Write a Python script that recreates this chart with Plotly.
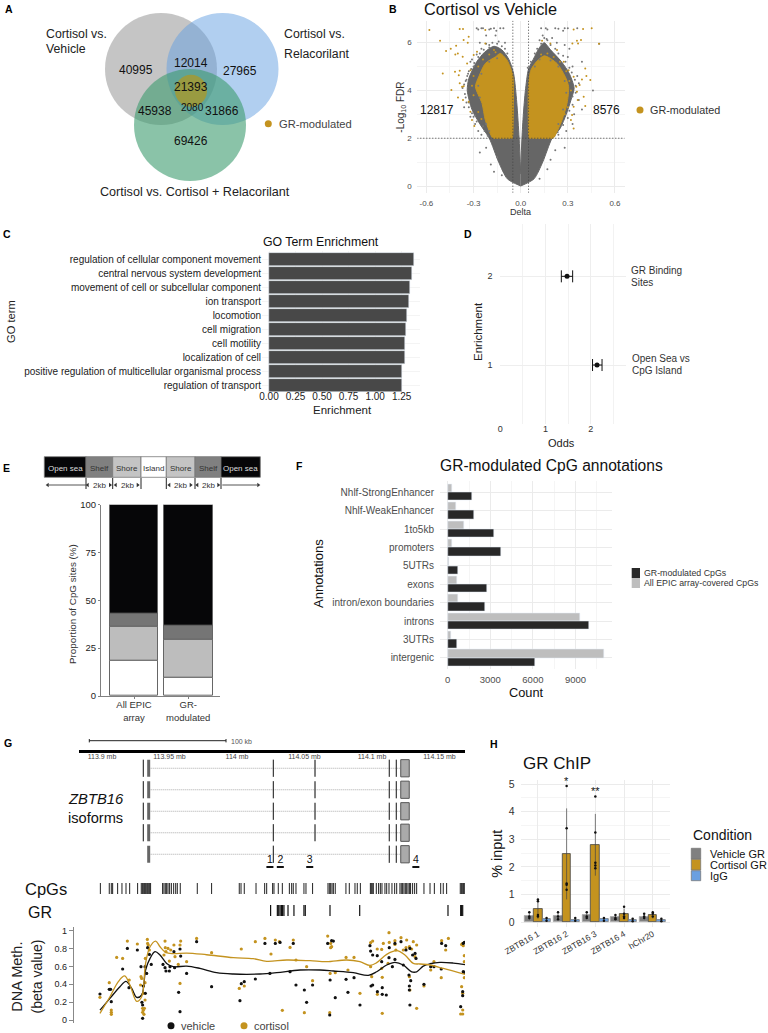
import numpy as np
import plotly.graph_objects as go

W, H = 768, 1033
FONT = "Liberation Sans"
GOLD = "#c4931f"

# --- A: venn ---
venn_counts = [40995, 12014, 27965, 21393, 45938, 2080, 31866, 69426]

# --- B: volcano, outlines and outliers ---
grey_left = [(0, 0), (-0.085, 0.3), (-0.14, 1), (-0.2, 2), (-0.26, 2.6), (-0.31, 3.2), (-0.34, 4), (-0.33, 4.5),
             (-0.28, 5.2), (-0.23, 5.6), (-0.17, 5.85), (-0.12, 5.7), (-0.075, 5.3), (-0.045, 4.7), (-0.025, 3.5),
             (-0.01, 2), (0, 0.5)]
grey_right = [(0, 0), (0.085, 0.3), (0.14, 1), (0.2, 2), (0.25, 2.4), (0.29, 3), (0.32, 3.6), (0.34, 4.1), (0.31, 4.7),
              (0.26, 5.2), (0.19, 5.7), (0.15, 6.0), (0.12, 5.8), (0.08, 5.3), (0.05, 4.9), (0.03, 4), (0.017, 3),
              (0.008, 2), (0, 0.6)]
gold_left = [(-0.05, 2), (-0.06, 2), (-0.17, 2), (-0.18, 2.02), (-0.225, 2.76), (-0.246, 3.46), (-0.288, 4.16),
             (-0.267, 4.57), (-0.225, 5.13), (-0.16, 5.41), (-0.13, 5.55), (-0.09, 5.3), (-0.076, 5.13), (-0.05, 4.6),
             (-0.05, 2.1)]
gold_right = [(0.05, 2), (0.06, 2), (0.2, 2), (0.21, 2.02), (0.263, 2.76), (0.295, 3.46), (0.305, 4.16), (0.284, 4.57),
              (0.231, 5.13), (0.15, 5.45), (0.10, 5.2), (0.065, 4.85), (0.05, 4.2), (0.05, 2.1)]
grey_pts = [(-0.36, 3.3), (-0.35, 3.7), (-0.37, 4.1), (-0.35, 4.4), (-0.33, 4.8), (-0.30, 5.0), (-0.32, 5.2),
            (-0.28, 5.5), (-0.25, 5.75), (-0.22, 5.95), (-0.18, 6.0), (-0.14, 6.05), (-0.1, 6.0), (-0.26, 6.0),
            (-0.2, 5.9), (-0.3, 2.9), (-0.29, 2.6), (-0.32, 2.9), (-0.27, 2.3), (-0.25, 2.15), (-0.33, 3.5),
            (-0.34, 4.6), (-0.31, 5.3), (-0.28, 6.6), (-0.27, 6.55), (-0.25, 6.6), (-0.24, 6.6), (-0.2, 6.55),
            (-0.19, 6.58), (-0.17, 6.6), (-0.155, 6.5), (-0.13, 6.6), (-0.11, 6.6), (-0.16, 6.3), (-0.22, 6.3),
            (0.13, 6.6), (0.16, 6.6), (0.17, 6.55), (0.22, 6.6), (0.24, 6.58), (0.27, 6.5), (0.28, 6.6), (0.30, 6.6),
            (0.36, 6.6), (0.14, 6.3), (0.17, 6.1), (0.12, 6.1), (0.2, 6.2), (0.23, 6.0), (0.28, 5.9), (0.31, 5.75),
            (0.3, 5.4), (0.33, 5.0), (0.36, 4.6), (0.37, 4.3), (0.35, 3.9), (0.37, 3.6), (0.33, 3.4), (0.34, 3.0),
            (0.33, 2.6), (0.29, 2.3), (0.24, 2.15), (0.39, 5.2), (0.46, 4.0), (0.50, 5.95), (0.39, 3.2), (0.28, 1.6),
            (0.22, 1.5), (0.19, 1.1), (0.17, 0.7), (0.12, 0.3), (-0.19, 0.9), (-0.17, 0.6), (-0.15, 1.2),
            (-0.22, 1.6), (-0.26, 1.4), (-0.12, 0.45),
            (-0.21, 2.1), (-0.23, 2.3), (-0.24, 2.5), (-0.28, 2.7), (-0.29, 2.95), (-0.31, 3.05), (-0.33, 3.3),
            (-0.345, 3.5), (-0.355, 3.85), (-0.36, 4.25), (-0.345, 4.45), (-0.335, 4.7), (-0.315, 4.9), (-0.295, 5.15),
            (-0.27, 5.4), (-0.26, 5.55), (-0.235, 5.7), (-0.2, 5.8), (-0.15, 5.95), (-0.12, 5.85), (-0.1, 5.75),
            (-0.085, 5.55), (0.215, 2.1), (0.235, 2.25), (0.27, 2.55), (0.3, 2.85), (0.31, 3.15), (0.33, 3.75),
            (0.35, 4.2), (0.345, 4.45), (0.325, 4.75), (0.31, 4.95), (0.285, 5.2), (0.27, 5.45), (0.24, 5.55),
            (0.22, 5.75), (0.19, 5.9), (0.165, 6.15), (0.15, 6.2), (0.13, 5.95), (0.105, 5.75), (0.09, 5.55),
            (0.065, 5.2), (0.045, 4.95)]
gold_pts = [(-0.581, 6.53), (-0.513, 6.08), (-0.475, 5.65), (-0.445, 5.75), (-0.411, 5.87), (-0.416, 5.51), (-0.4, 5.55),
            (-0.369, 5.41), (-0.496, 4.71), (-0.418, 4.78), (-0.388, 4.83), (-0.394, 4.64), (-0.388, 4.3),
            (-0.373, 4.16), (-0.363, 4.18), (-0.441, 4.02), (-0.399, 3.7), (-0.367, 3.6), (-0.331, 3.53),
            (-0.32, 3.11), (-0.295, 2.51), (-0.31, 2.76), (-0.388, 6.57), (-0.367, 6.57), (-0.331, 6.25),
            (-0.363, 6.11), (-0.337, 6.0), (-0.278, 5.62), (-0.299, 5.48), (-0.341, 5.13), (-0.32, 4.85),
            (-0.225, 5.97), (-0.225, 6.53), (-0.17, 5.69), (0.397, 6.57), (0.452, 6.6), (0.337, 6.55), (0.498, 5.96),
            (0.384, 6.11), (0.358, 6.08), (0.365, 5.97), (0.329, 5.97), (0.411, 4.92), (0.418, 4.6), (0.443, 4.44),
            (0.39, 4.46), (0.354, 4.16), (0.375, 4.23), (0.358, 3.95), (0.401, 3.74), (0.363, 3.6), (0.411, 3.35),
            (0.337, 3.32), (0.32, 2.76), (0.337, 2.41), (0.327, 2.97), (0.337, 4.57), (0.305, 4.85), (0.274, 5.2),
            (0.231, 5.69), (0.189, 5.97), (0.136, 6.08),
            (-0.3, 3.8), (-0.31, 4.2), (-0.3, 4.6), (-0.27, 5.0), (-0.24, 5.3), (-0.2, 5.5), (-0.16, 5.6), (-0.27, 3.1),
            (-0.25, 2.8), (0.28, 3.0), (0.3, 3.3), (0.32, 4.0), (0.31, 4.4), (0.29, 4.8), (0.25, 5.2), (0.21, 5.4),
            (0.17, 5.55), (0.13, 5.5)]
speck_pts = [(-0.26, 3.7), (-0.27, 4.2), (-0.25, 4.7), (-0.2, 5.2), (-0.15, 5.35), (-0.22, 2.6), (-0.2, 2.3), (0.24, 2.6),
             (0.27, 3.2), (0.29, 3.9), (0.28, 4.4), (0.24, 5.0), (0.19, 5.25), (0.12, 5.3), (0.09, 5.0)]
fdr_cut = 2
delta_cut = 0.05

# --- C: GO terms ---
go_terms = ["regulation of cellular component movement", "central nervous system development",
            "movement of cell or subcellular component", "ion transport", "locomotion", "cell migration",
            "cell motility", "localization of cell", "positive regulation of multicellular organismal process",
            "regulation of transport"]
go_enrich = [1.37, 1.351, 1.326, 1.323, 1.304, 1.291, 1.285, 1.285, 1.257, 1.254]

# --- D: odds ---
odds_y = [2, 1]
odds_val = [1.476, 2.14]
odds_lo = [1.35, 2.04]
odds_hi = [1.60, 2.25]

# --- E: stacked proportions ---
e_labels = ["All EPIC<br>array", "GR-<br>modulated"]
e_island = [18.5, 9.6]
e_shore = [17.9, 19.8]
e_shelf = [6.8, 7.1]
e_sea = [56.8, 63.5]

# --- F: annotations ---
f_labels = ["Nhlf-StrongEnhancer", "Nhlf-WeakEnhancer", "1to5kb", "promoters", "5UTRs", "exons",
            "intron/exon boundaries", "introns", "3UTRs", "intergenic"]
f_all = [328, 562, 1172, 328, 94, 656, 703, 9305, 234, 10992]
f_mod = [1711, 1875, 3281, 3750, 727, 2766, 2625, 9961, 633, 6164]

# --- G: locus, positions in kb from 113.9 mb ---
locus_ticks = [0, 50, 100, 150, 200, 250]
locus_labels = ["113.9 mb", "113.95 mb", "114 mb", "114.05 mb", "114.1 mb", "114.15 mb"]
iso_rows = [1, 2, 3, 4, 5]
iso_start = 34.6
iso_end = 221.3
exon_thin = [[30.6, 126.9, 212.8, 218], [30.6, 126.9, 212.8, 218], [30.6, 126.9, 212.8, 218],
             [30.6, 126.9, 212.8, 218], [126.9, 212.8, 218]]
exon_mid = [[157.8], [157.8], [157.8], [157.8], []]
exon_first = 34.6
exon_last = (221.3, 227.6)
amplicons = [("1", 124.4), ("2", 132.1), ("3", 153.9), ("4", 232.5)]
cpg_pos = [-1.2, 5.4, 6.9, 7.9, 11.6, 14.8, 17.8, 20.5, 26.4, 29.1, 29.9, 30.6, 31.4, 32.1, 32.8, 33.6, 34.3, 35.1, 36.0,
           44.9, 45.9, 46.9, 47.9, 48.9, 50.1, 51.4, 53.1, 54.6, 55.8, 58.0, 70.6, 81.2, 101.7, 103.0, 105.4, 114.1,
           120.5, 122.0, 126.4, 127.4, 130.6, 133.6, 138.8, 140.5, 141.7, 143.7, 149.6, 151.1, 156.0, 167.4, 168.4,
           169.4, 170.4, 171.4, 172.8, 180.7, 183.2, 187.4, 189.1, 191.4, 198.8, 199.5, 200.2, 201.0, 203.2, 204.9,
           206.2, 207.4, 209.6, 210.9, 212.6, 214.8, 216.8, 218.3, 220.7, 221.7, 222.7, 223.7, 224.7, 225.7, 226.7,
           227.7, 228.6, 230.1, 231.6, 233.1, 238.5, 243.0, 246.2, 250.9, 252.8, 255.3, 265.4, 266.2, 266.9, 267.7,
           268.4]
gr_pos = [124.9, 129.9, 130.9, 131.9, 132.9, 133.8, 134.8, 137.8, 142.2, 149.6, 150.6, 168.9, 190.9, 256.3, 265.7,
          266.4, 267.2]
veh_pts = [(-1.5, .291), (5.4, .343), (6.4, .343), (6.9, .205), (15.3, .571), (18.8, .802), (26.2, .784), (20, .362),
           (28.9, .597), (31.9, .597), (33.1, .522), (30.6, .381), (32.1, .299), (29.6, .198), (30.1, .168),
           (30.1, .019), (33.8, .81), (36.5, .623), (35.1, .735), (45.2, .623), (46.7, .586), (50.4, .597),
           (47.4, .549), (49.9, .549), (53.8, .586), (53.3, .765), (58.3, .716), (57.8, .795), (62.7, .522),
           (56.8, .31), (57.8, .093), (70.1, .877), (81.2, .373), (102.2, .216), (103.2, .407), (105.4, .429),
           (113.6, .459), (120.7, .858), (124.4, .522), (128.4, .858), (131.9, .869), (141.7, .858), (139.3, .541),
           (143.7, .392), (149.9, .336), (156, .392), (151.6, .198), (167.2, .858), (170.1, .888), (171.4, .884),
           (169, .448), (172.8, .25), (180.8, .455), (186.7, .474), (182.2, .31), (191.1, .168), (168.7, .056),
           (198.5, .832), (199, .772), (200.5, .728), (203.9, .72), (199.3, .381), (200.5, .392), (207.6, .362),
           (204, .317), (207.6, .287), (210.6, .28), (207.2, .653), (212.6, .698), (212.8, .81), (217, .858),
           (221.5, .877), (217, .679), (215.1, .597), (223.2, .616), (225.2, .784), (230.1, .728), (231.9, .746),
           (232.6, .69), (228.1, .802), (227.4, .504), (228.7, .44), (227.7, .381), (227.7, .336), (228.1, .168),
           (238.5, .399), (245.9, .597), (251.6, .858), (254.6, .832), (251.3, .571), (243.5, .597), (267.6, .858),
           (268.4, .869), (265.7, .149), (267.2, .317), (267.2, .272), (267.6, .541), (268.4, .534)]
cort_pts = [(-1.5, .254), (5.4, .418), (6.9, .112), (6.9, .086), (6.9, .063), (10.9, .701), (15.3, .69), (18.8, .884),
            (26.2, .851), (20.2, .448), (28.9, .485), (29.4, .466), (28.6, .392), (31.9, .418), (32.1, .69),
            (33.6, .903), (33.8, .858), (34.3, .84), (35.1, .784), (30.6, .299), (31.9, .224), (30.1, .131),
            (30.6, .108), (31.4, .131), (30.1, .086), (31.1, .063), (46.7, .884), (46.9, .81), (50.9, .784),
            (45.9, .728), (47.4, .765), (48.9, .802), (53.3, .84), (58.3, .884), (57.8, .84), (54.1, .709),
            (56.5, .623), (49.9, .66), (62.7, .653), (57.8, .41), (70.1, .914), (81.2, .754), (103.2, .795),
            (101.7, .354), (105.4, .381), (113.6, .877), (120.7, .914), (125.2, .739), (128.4, .896), (131.4, .877),
            (141.7, .896), (139.3, .813), (143.7, .672), (151.6, .597), (156, .44), (167.2, .94), (169.4, .858),
            (170.1, .821), (169.4, .81), (169, .522), (172.8, .53), (180.8, .701), (186.7, .701), (182.2, .56),
            (191.1, .299), (133.6, .108), (149.9, .082), (168.7, .082), (199, .866), (200.5, .884), (203.9, .795),
            (207.2, .791), (208.4, .858), (212.8, .869), (212.6, .978), (217, .888), (217, .847), (221.5, .922),
            (225.7, .896), (230.6, .877), (233.1, .84), (227.7, .821), (225.2, .81), (229.4, .795), (223.2, .784),
            (231.9, .709), (217.7, .784), (199, .597), (199.8, .485), (207.6, .478), (211.9, .634), (207.2, .578),
            (204, .287), (207.6, .075), (227.7, .485), (228.1, .336), (233.1, .131), (238.5, .381), (245.9, .653),
            (243.5, .56), (251.6, .888), (256.6, .914), (254.6, .784), (251.3, .474), (266.4, .847), (267.2, .858),
            (267.6, .832), (268.4, .72), (268.4, .653), (268.4, .474), (266.4, .373), (267.2, .299), (267.2, .112),
            (265.7, .067), (267.2, .067)]
veh_curve = [(-1.5, .11), (5.9, .243), (13.3, .373), (17.8, .433), (22, .354), (25.7, .254), (29.4, .28), (32.3, .56),
             (35.6, .69), (39.3, .765), (43, .728), (47.9, .634), (52.8, .597), (62.7, .604), (72.6, .578), (84.9, .53),
             (97.3, .515), (117, .515), (129.4, .53), (146.7, .56), (161.5, .56), (171.4, .549), (186.2, .53),
             (197.3, .5), (203.5, .54), (210.9, .616), (217, .646), (223.2, .616), (229.4, .54), (233.1, .54),
             (238, .604), (243, .63), (250.4, .646), (260.2, .638), (268.9, .62)]
cort_curve = [(-1.5, .075), (5.9, .26), (12.1, .43), (16.8, .493), (20.7, .392), (25.7, .209), (29.4, .261), (32.3, .634),
              (35.6, .82), (39.8, .884), (43, .82), (47.2, .757), (52.8, .743), (62.7, .75), (77.5, .731), (97.3, .698),
              (112, .687), (122, .657), (136.8, .672), (154.1, .664), (166.4, .653), (181.2, .672), (191.1, .653),
              (198.5, .612), (203.5, .642), (210.9, .735), (218.3, .776), (224.4, .728), (230.6, .634), (235.6, .627),
              (243, .616), (252.8, .578), (268.9, .511)]

# --- H: ChIP ---
h_labels = ["ZBTB16 1", "ZBTB16 2", "ZBTB16 3", "ZBTB16 4", "hChr20"]
h_vehicle = [.22, .22, .25, .18, .20]
h_cortisol = [.47, 2.47, 2.80, .29, .25]
h_igg = [.10, .08, .10, .07, .07]
h_vehicle_err = [.15, .15, .13, .10, .10]
h_cortisol_err = [.35, 1.65, 1.12, .20, .12]
h_igg_err = [.07, .07, .08, .05, .05]
h_vehicle_pts = [[.35, .2, .15], [.35, .2, .1], [.35, .2, .15], [.25, .15, .1], [.3, .2, .15]]
h_cortisol_pts = [[.2, .25, .75, .82], [4.93, 3.4, 1.4, 1.35, 1.17], [4.55, 3.25, 2.15, 2.05, 1.95],
                  [.55, .3, .15, .2], [.35, .2, .3]]
h_igg_pts = [[.15, .05], [.15, .05], [.15, .05], [.12, .03], [.12, .03]]


def dx(l, r):
    return [l / W, r / W]


def dy(t, b):
    return [1 - b / H, 1 - t / H]


def xs(pts):
    return [p[0] for p in pts]


def ys(pts):
    return [p[1] for p in pts]


def rug(pos):
    x, y = [], []
    for p in pos:
        x += [p, p, None]
        y += [0, 1, None]
    return x, y


annotations = []


def note(text, x, y, size=10, color="#222222", anchor="left", angle=0):
    # page-wide axis, so these never push the margins
    annotations.append(dict(text=text, x=x, y=y, xref="x", yref="y", showarrow=False,
                            xanchor=anchor, yanchor="middle", textangle=angle, align=anchor,
                            font=dict(size=size, color=color, family=FONT)))


shapes = []


def rect(x0, y0, x1, y1, fill, line="rgba(0,0,0,0)", lw=1):
    shapes.append(dict(type="rect", x0=x0, y0=y0, x1=x1, y1=y1, xref="x", yref="y", fillcolor=fill,
                       line=dict(color=line, width=lw), layer="below"))


def seg(x0, y0, x1, y1, color="#222222", lw=1):
    shapes.append(dict(type="line", x0=x0, y0=y0, x1=x1, y1=y1, xref="x", yref="y", line=dict(color=color, width=lw)))


def circle(cx, cy, r, fill):
    shapes.append(dict(type="circle", x0=cx - r, x1=cx + r, y0=cy - r, y1=cy + r, xref="x", yref="y", fillcolor=fill,
                       line=dict(width=0), layer="below"))


fig = go.Figure()

# page-wide axis for the schematic parts (venn, sea/shore strip, hand legends)
fig.add_trace(go.Scatter(x=[268.3, 640, 171, 244], y=[123.7, 110, 1025.7, 1025.7], mode="markers", xaxis="x", yaxis="y",
                         marker=dict(size=7, color=[GOLD, GOLD, "#111111", GOLD]), showlegend=False))
fig.add_trace(go.Scatter(x=[47.7, 87.7, 115.7, 169.3, 197.3], y=[485] * 5, mode="markers", xaxis="x", yaxis="y",
                         marker=dict(size=4, symbol="triangle-left", color="#333333"), showlegend=False))
fig.add_trace(go.Scatter(x=[110, 137.7, 190.7, 218.3, 258.3], y=[485] * 5, mode="markers", xaxis="x", yaxis="y",
                         marker=dict(size=4, symbol="triangle-right", color="#333333"), showlegend=False))

# A
circle(161, 69, 56, "rgba(150,150,150,0.55)")
circle(222.5, 69, 56, "rgba(100,160,225,0.5)")
circle(190, 125, 56, "rgba(60,155,110,0.6)")
circle(191, 90.7, 16, "rgba(185,150,20,0.65)")
for n, px, py, s in zip(venn_counts, [135.7, 191, 240, 191, 154.7, 192, 222, 191],
                        [70.3, 62.7, 71, 87.3, 111, 107, 111, 140.7], [12, 12, 12, 12, 12, 10, 12, 12]):
    note(str(n), px, py, s, "#111111", "center")
note("Cortisol vs.", 44, 34, 12.3)
note("Vehicle", 44, 49.3, 12.3)
note("Cortisol vs.", 282.3, 34, 12.3)
note("Relacorilant", 282.3, 53.7, 12.3)
note("Cortisol vs. Cortisol + Relacorilant", 97.7, 192.3, 12.6)
note("GR-modulated", 277, 123.7, 11.2, "#444444")

# B
for pts in [grey_left, grey_right]:
    fig.add_trace(go.Scatter(x=xs(pts), y=ys(pts), mode="lines", fill="toself", fillcolor="#666666",
                             line=dict(color="#666666", width=1, shape="spline", smoothing=0.7),
                             xaxis="x2", yaxis="y2", showlegend=False))
fig.add_trace(go.Scatter(x=xs(grey_pts), y=ys(grey_pts), mode="markers", marker=dict(size=2, color="#777777"),
                         xaxis="x2", yaxis="y2", showlegend=False))
for pts in [gold_left, gold_right]:
    fig.add_trace(go.Scatter(x=xs(pts), y=ys(pts), mode="lines", fill="toself", fillcolor=GOLD,
                             line=dict(color=GOLD, width=1, shape="spline", smoothing=0.7),
                             xaxis="x2", yaxis="y2", showlegend=False))
fig.add_trace(go.Scatter(x=xs(gold_pts), y=ys(gold_pts), mode="markers", marker=dict(size=2, color=GOLD),
                         xaxis="x2", yaxis="y2", showlegend=False))
fig.add_trace(go.Scatter(x=xs(speck_pts), y=ys(speck_pts), mode="markers", marker=dict(size=2, color="#777777"),
                         xaxis="x2", yaxis="y2", showlegend=False))
dots = dict(color="#444444", width=1, dash="1px,2px")
fig.add_trace(go.Scatter(x=[-0.658, 0.662], y=[fdr_cut, fdr_cut], mode="lines", line=dots, xaxis="x2", yaxis="y2", showlegend=False))
for d in [-delta_cut, delta_cut]:
    fig.add_trace(go.Scatter(x=[d, d], y=[-0.28, 6.92], mode="lines", line=dots, xaxis="x2", yaxis="y2", showlegend=False))
note("Cortisol vs Vehicle", 421.7, 8.5, 16.3, "#111111")
note("12817", 437.3, 110, 12, "#111111", "center")
note("8576", 606, 110, 12, "#111111", "center")
note("GR-modulated", 647.7, 110, 10.8, "#333333")
note("-Log<sub>10</sub> FDR", 400.7, 107, 10, "#333333", "center", -90)
note("Delta", 520.7, 212.3, 9, "#333333", "center")

# C
fig.add_trace(go.Bar(x=go_enrich, y=list(range(10)), orientation="h", width=0.9, marker=dict(color="#484848"),
                     xaxis="x3", yaxis="y3", showlegend=False))
note("GO Term Enrichment", 321, 242, 12.3, "#111111", "center")
note("Enrichment", 342, 410, 11.5, "#222222", "center")
note("GO term", 11, 322, 11.2, "#222222", "center", -90)

# D
fig.add_trace(go.Scatter(x=odds_val, y=odds_y, mode="markers", marker=dict(size=5, color="#111111"),
                         error_x=dict(type="data", symmetric=False, array=[h - v for h, v in zip(odds_hi, odds_val)],
                                      arrayminus=[v - l for l, v in zip(odds_lo, odds_val)], color="#111111",
                                      thickness=1, width=6),
                         xaxis="x4", yaxis="y4", showlegend=False))
note("Odds", 561.7, 442.7, 11, "#222222", "center")
note("Enrichment", 478, 332, 11.5, "#222222", "center", -90)
note("GR Binding", 628.7, 270.7, 10, "#333333")
note("Sites", 628.7, 282.7, 10, "#333333")
note("Open Sea vs", 629.7, 358.7, 10, "#333333")
note("CpG Island", 629.7, 370.7, 10, "#333333")

# E
base = np.zeros(2)
for vals, col in [(e_island, "#ffffff"), (e_shore, "#bdbdbd"), (e_shelf, "#757575"), (e_sea, "#060608")]:
    fig.add_trace(go.Bar(x=[0, 1], y=vals, base=list(base), width=0.9, marker=dict(color=col, line=dict(color="#666666", width=1)),
                         xaxis="x5", yaxis="y5", showlegend=False))
    base = base + np.array(vals)
edges = [44.3, 86, 112.7, 141, 166.3, 195, 221, 260.3]
fills = ["#060608", "#808080", "#c4c4c4", "#ffffff", "#c4c4c4", "#808080", "#060608"]
names = ["Open sea", "Shelf", "Shore", "Island", "Shore", "Shelf", "Open sea"]
tcols = ["#dddddd", "#333333", "#333333", "#333333", "#333333", "#333333", "#dddddd"]
for i in range(7):
    rect(edges[i], 456.7, edges[i + 1], 477.3, fills[i], "#777777", 0.8)
    note(names[i], (edges[i] + edges[i + 1]) / 2, 468, 8, tcols[i], "center")
for e in edges[1:-1]:
    seg(e, 478, e, 489, "#222222", 1)
seg(47.7, 485, 86, 485, "#555555", 1)
seg(222.3, 485, 258.3, 485, "#555555", 1)
for px in [99.3, 127, 180, 208.3]:
    note("2kb", px, 485, 8, "#333333", "center")
note("Proportion of CpG sites (%)", 72, 604, 9.8, "#333333", "center", -90)

# F
fig.add_trace(go.Bar(x=f_all, y=list(range(10)), orientation="h", width=0.45, offset=-0.45, marker=dict(color="#bebebe"),
                     xaxis="x6", yaxis="y6", showlegend=False))
fig.add_trace(go.Bar(x=f_mod, y=list(range(10)), orientation="h", width=0.45, offset=0, marker=dict(color="#282828"),
                     xaxis="x6", yaxis="y6", showlegend=False))
note("GR-modulated CpG annotations", 551.7, 465.7, 15.6, "#111111", "center")
note("Count", 526, 692.7, 12.8, "#111111", "center")
note("Annotations", 318, 574, 13, "#111111", "center", -90)
rect(631.7, 568, 640, 578, "#282828")
rect(631.7, 578, 640, 588, "#bebebe")
note("GR-modulated CpGs", 642, 573, 8.8, "#333333")
note("All EPIC array-covered CpGs", 642, 583, 8.8, "#333333")

# G
seg(89.3, 740.7, 226, 740.7, "#222222", 1)
seg(89.3, 739, 89.3, 742.4, "#222222", 1)
seg(226, 739, 226, 742.4, "#222222", 1)
note("100 kb", 229, 741, 7, "#555555")
note("<i>ZBTB16</i>", 65.7, 799.3, 14.8, "#111111")
note("isoforms", 65.7, 818.3, 14.6, "#111111")
note("CpGs", 23.3, 889.3, 16.5, "#111111")
note("GR", 25.7, 912.3, 16, "#111111")
note("DNA Meth.", 17, 976.7, 14.5, "#222222", "center", -90)
note("(beta value)", 36.7, 976.7, 14, "#222222", "center", -90)
note("vehicle", 179, 1025.7, 11, "#444444")
note("cortisol", 252.3, 1025.7, 11, "#444444")

# keeps the ruler axis on its own thin subplot
fig.add_trace(go.Scatter(x=locus_ticks, y=[0.5] * 6, mode="markers", marker=dict(size=1, opacity=0),
                         xaxis="x7", yaxis="y7", showlegend=False))
for i, row in enumerate(iso_rows):
    fig.add_trace(go.Scatter(x=[iso_start, iso_end], y=[row, row], mode="lines", line=dict(color="#aaaaaa", width=1, dash="1px,1px"),
                             xaxis="x7", yaxis="y8", showlegend=False))
    for pos in exon_thin[i]:
        fig.add_trace(go.Scatter(x=[pos, pos], y=[row - 0.4, row + 0.4], mode="lines", line=dict(color="#111111", width=1),
                                 xaxis="x7", yaxis="y8", showlegend=False))
    for pos in exon_mid[i]:
        fig.add_trace(go.Scatter(x=[pos, pos], y=[row - 0.4, row + 0.4], mode="lines", line=dict(color="#555555", width=1.5),
                                 xaxis="x7", yaxis="y8", showlegend=False))
    fig.add_trace(go.Scatter(x=[exon_first, exon_first], y=[row - 0.4, row + 0.4], mode="lines", line=dict(color="#666666", width=3),
                             xaxis="x7", yaxis="y8", showlegend=False))
    a, b = exon_last
    fig.add_trace(go.Scatter(x=[a, b, b, a, a], y=[row - 0.4, row - 0.4, row + 0.4, row + 0.4, row - 0.4], mode="lines",
                             fill="toself", fillcolor="#aaaaaa", line=dict(color="#555555", width=1),
                             xaxis="x7", yaxis="y8", showlegend=False))
for label, pos in amplicons:
    fig.add_trace(go.Scatter(x=[pos - 2.6, pos + 2.6], y=[5.59, 5.59], mode="lines", line=dict(color="#111111", width=2),
                             xaxis="x7", yaxis="y8", showlegend=False))
    fig.add_trace(go.Scatter(x=[pos], y=[5.3], mode="text", text=[label], textfont=dict(size=10.5, color="#111111", family=FONT),
                             xaxis="x7", yaxis="y8", showlegend=False))

rx, ry = rug(cpg_pos)
fig.add_trace(go.Scatter(x=rx, y=ry, mode="lines", line=dict(color="#222222", width=1), xaxis="x7", yaxis="y9", showlegend=False))
rx, ry = rug(gr_pos)
fig.add_trace(go.Scatter(x=rx, y=ry, mode="lines", line=dict(color="#111111", width=1.2), xaxis="x7", yaxis="y10", showlegend=False))
fig.add_trace(go.Scatter(x=xs(cort_pts), y=ys(cort_pts), mode="markers", marker=dict(size=3.2, color=GOLD),
                         xaxis="x7", yaxis="y11", showlegend=False))
fig.add_trace(go.Scatter(x=xs(veh_pts), y=ys(veh_pts), mode="markers", marker=dict(size=3.2, color="#111111"),
                         xaxis="x7", yaxis="y11", showlegend=False))
fig.add_trace(go.Scatter(x=xs(veh_curve), y=ys(veh_curve), mode="lines", line=dict(color="#111111", width=1.3, shape="spline"),
                         xaxis="x7", yaxis="y11", showlegend=False))
fig.add_trace(go.Scatter(x=xs(cort_curve), y=ys(cort_curve), mode="lines", line=dict(color=GOLD, width=1.3, shape="spline"),
                         xaxis="x7", yaxis="y11", showlegend=False))

# H
h_x = list(range(5))
for vals, errs, pts, off, col, edge in [(h_vehicle, h_vehicle_err, h_vehicle_pts, -0.45, "#808080", "#aaaaaa"),
                                        (h_cortisol, h_cortisol_err, h_cortisol_pts, -0.15, GOLD, "#444444"),
                                        (h_igg, h_igg_err, h_igg_pts, 0.15, "#6a9fe0", "#777777")]:
    fig.add_trace(go.Bar(x=h_x, y=vals, width=0.3, offset=off, marker=dict(color=col, line=dict(color=edge, width=0.8)),
                         error_y=dict(type="data", array=errs, color="#444444", thickness=0.7, width=0),
                         xaxis="x12", yaxis="y12", showlegend=False))
    px_, py_ = [], []
    for i, vs in enumerate(pts):
        px_ += [i + off + 0.15] * len(vs)
        py_ += vs
    fig.add_trace(go.Scatter(x=px_, y=py_, mode="markers", marker=dict(size=2.5, color="#111111"),
                             xaxis="x12", yaxis="y12", showlegend=False))
note("GR ChIP", 520.7, 763.3, 17, "#111111")
note("% input", 496.7, 854, 14.4, "#111111", "center", -90)
note("*", 566.3, 781, 11, "#111111", "center")
note("**", 595, 791, 11, "#111111", "center")
note("Condition", 691.3, 835, 14, "#111111")
for y0, y1, col, name in [(848.3, 859, "#808080", "Vehicle GR"), (859.3, 870, GOLD, "Cortisol GR"), (870.7, 880.7, "#6a9fe0", "IgG")]:
    rect(691.3, y0, 700.7, y1, col, "#777777", 0.8)
    note(name, 708.3, (y0 + y1) / 2, 11, "#111111")

# panel letters
for letter, px, py in [("A", 3, 9.3), ("B", 387, 9), ("C", 1, 234), ("D", 461.7, 234), ("E", 1, 467.7), ("F", 294, 466),
                       ("G", 2, 743), ("H", 488, 744)]:
    note("<b>" + letter + "</b>", px, py, 10.5, "#000000")

tick_font = dict(size=8, color="#4d4d4d", family=FONT)
grid = "#ebebeb"
soft = "#f5f5f5"
hidden = dict(visible=False, showgrid=False, zeroline=False)

fig.update_layout(
    width=W, height=H, autosize=False, margin=dict(l=0, r=0, t=0, b=0, pad=0, autoexpand=False),
    paper_bgcolor="white", plot_bgcolor="rgba(0,0,0,0)", barmode="overlay", bargap=0, showlegend=False,
    font=dict(family=FONT), annotations=annotations, shapes=shapes,
    xaxis=dict(domain=[0, 1], range=[0, W], **hidden),
    yaxis=dict(domain=[0, 1], range=[H, 0], **hidden),
    # B
    xaxis2=dict(domain=dx(417.3, 624.7), range=[-0.658, 0.662], anchor="y2", tickvals=[-0.6, -0.3, 0, 0.3, 0.6],
                ticktext=["-0.6", "-0.3", "0.0", "0.3", "0.6"], gridcolor=grid, zeroline=False, tickfont=tick_font,
                ticks="outside", ticklen=3, tickcolor="white",
                minor=dict(tickvals=[-0.45, -0.15, 0.15, 0.45], showgrid=True, gridcolor=soft, ticks="")),
    yaxis2=dict(domain=dy(20.7, 192.7), range=[-0.28, 6.92], anchor="x2", tickvals=[0, 2, 4, 6], gridcolor=grid,
                zeroline=False, tickfont=tick_font, ticks="outside", ticklen=3, tickcolor="white",
                minor=dict(tickvals=[1, 3, 5], showgrid=True, gridcolor=soft, ticks="")),
    # C
    xaxis3=dict(domain=dx(262, 420), range=[-0.066, 1.423], anchor="y3", tickvals=[0, 0.25, 0.5, 0.75, 1, 1.25],
                ticktext=["0.00", "0.25", "0.50", "0.75", "1.00", "1.25"], gridcolor="#f4f4f4", zeroline=False,
                tickfont=dict(size=10, color="#222222", family=FONT), ticks="", ticklabelstandoff=-5),
    yaxis3=dict(domain=dy(250.9, 393.7), range=[9.6, -0.6], anchor="x3", tickvals=list(range(10)), ticktext=go_terms,
                gridcolor="#f4f4f4", zeroline=False, tickfont=dict(size=10, color="#222222", family=FONT), ticks=""),
    # D
    xaxis4=dict(domain=dx(500.3, 626), range=[0, 2.78], anchor="y4", tickvals=[0, 1, 2], gridcolor="#eeeeee",
                zeroline=False, tickfont=dict(size=9, color="#333333", family=FONT), ticks="", ticklabelstandoff=-2,
                minor=dict(tickvals=[0.5, 1.5, 2.5], showgrid=True, gridcolor="#f2f2f2", ticks="")),
    yaxis4=dict(domain=dy(224, 424), range=[0.335, 2.59], anchor="x4", tickvals=[1, 2], gridcolor="#eeeeee",
                zeroline=False, tickfont=dict(size=9, color="#333333", family=FONT), ticks="outside", ticklen=5,
                tickcolor="white"),
    # E
    xaxis5=dict(domain=dx(101, 220), range=[-0.609, 1.587], anchor="y5", tickvals=[0, 1], ticktext=e_labels, tickangle=0,
                showgrid=False, zeroline=False, showline=True, linecolor="#808080", ticks="outside", ticklen=2,
                tickcolor="#808080", ticklabelstandoff=-2, tickfont=dict(size=9.5, color="#333333", family=FONT)),
    yaxis5=dict(domain=dy(504.7, 696), range=[0, 100], anchor="x5", tickvals=[0, 25, 50, 75, 100], showgrid=False,
                zeroline=False, showline=True, linecolor="#808080", ticks="outside", ticklen=2, tickcolor="#808080",
                tickfont=dict(size=9.5, color="#222222", family=FONT)),
    # F
    xaxis6=dict(domain=dx(440, 612), range=[-542, 11570], anchor="y6", tickvals=[0, 3000, 6000, 9000], gridcolor=grid,
                zeroline=False, tickfont=dict(size=9.5, color="#4d4d4d", family=FONT), ticks="outside", ticklen=2,
                tickcolor="white", minor=dict(tickvals=[1500, 4500, 7500, 10500], showgrid=True, gridcolor=soft, ticks="")),
    yaxis6=dict(domain=dy(481.3, 669), range=[9.6, -0.6], anchor="x6", tickvals=list(range(10)), ticktext=f_labels,
                gridcolor=grid, zeroline=False, tickfont=dict(size=10, color="#4d4d4d", family=FONT), ticks="outside",
                ticklen=3, tickcolor="white"),
    # G, one locus axis shared by all tracks
    xaxis7=dict(domain=dx(79.3, 465), range=[-16.8, 268.9], anchor="y7", tickvals=locus_ticks, ticktext=locus_labels,
                showgrid=False, zeroline=False, showline=True, linewidth=2.5, linecolor="#000000", ticks="",
                ticklabelstandoff=-2, tickfont=dict(size=7, color="#444444", family=FONT)),
    yaxis7=dict(domain=dy(748.8, 750), range=[0, 1], anchor="x7", **hidden),
    yaxis8=dict(domain=dy(757.5, 875.75), range=[6, 0.5], anchor="x7", **hidden),
    yaxis9=dict(domain=dy(883, 894), range=[0, 1], anchor="x7", **hidden),
    yaxis10=dict(domain=dy(905, 916), range=[0, 1], anchor="x7", **hidden),
    yaxis11=dict(domain=dy(926.7, 1023.3), range=[-0.037, 1.045], anchor="free", position=72.7 / W,
                 tickvals=[0, 0.2, 0.4, 0.6, 0.8, 1], ticktext=["0", "0.2", "0.4", "0.6", "0.8", "1"], showgrid=False,
                 zeroline=False, showline=True, linecolor="#888888", ticks="outside", ticklen=4, tickcolor="#888888",
                 tickfont=dict(size=9, color="#222222", family=FONT)),
    # H
    xaxis12=dict(domain=dx(520.7, 670), range=[-0.6, 4.6], anchor="y12", tickvals=h_x, ticktext=h_labels, tickangle=-30,
                 gridcolor=grid, zeroline=False, tickfont=dict(size=8.5, color="#333333", family=FONT)),
    yaxis12=dict(domain=dy(780, 926.7), range=[-0.17, 5.15], anchor="x12", tickvals=[0, 1, 2, 3, 4, 5], gridcolor=grid,
                 zeroline=False, tickfont=dict(size=10.5, color="#333333", family=FONT), ticks="outside", ticklen=3,
                 tickcolor="white", minor=dict(tickvals=[0.5, 1.5, 2.5, 3.5, 4.5], showgrid=True, gridcolor=soft, ticks="")),
)

fig.write_html("out.html", config=dict(displayModeBar=False), post_script="document.body.style.margin='0';")
